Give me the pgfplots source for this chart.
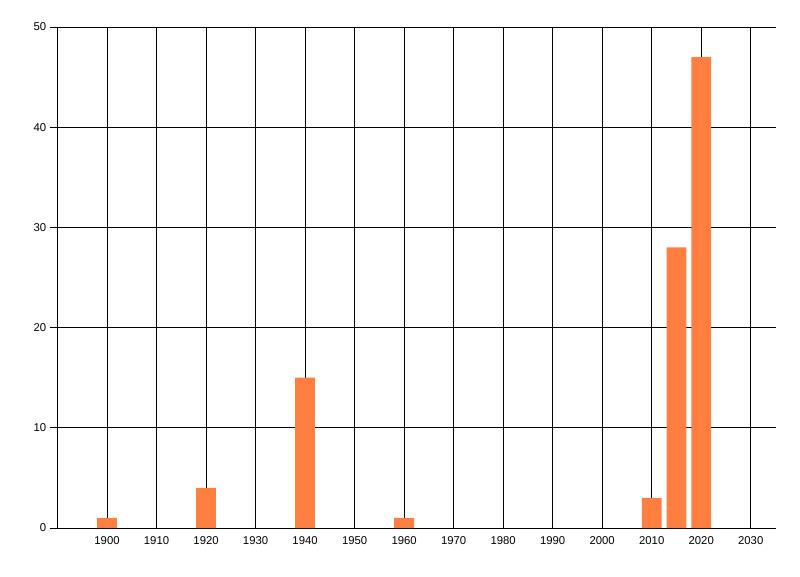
\documentclass[border=0pt]{standalone}
\usepackage{fontspec}
\setmainfont{Liberation Sans}
\usepackage{pgfplots}
\pgfplotsset{compat=1.18}
\definecolor{barorange}{RGB}{255,127,64}

\begin{document}
\begin{tikzpicture}
\path[use as bounding box] (0pt,0pt) rectangle (600pt,432pt);
\begin{axis}[
    at={(43.125pt,36pt)}, anchor=south west,
    scale only axis,
    width=538.5pt, height=375.75pt,
    xmin=1890, xmax=2035,
    ymin=0, ymax=50,
    xtick={1900,1910,...,2030},
    ytick={0,10,...,50},
    axis x line*=bottom, axis y line*=left,
    axis line style={-, black, line width=0.75pt},
    grid=major,
    major grid style={black, line width=0.75pt},
    xtick style={draw=none},
    ytick style={black, line width=0.75pt},
    tick align=outside,
    major tick length=6pt,
    ticklabel style={font=\fontsize{8.5}{10}\selectfont},
    xticklabel style={yshift=3pt},
    yticklabel style={xshift=1pt},
    /pgf/number format/assume math mode=true,
    /pgf/number format/1000 sep={},
    ybar, bar width=4,
]
\addplot[fill=barorange, draw=none] coordinates {
    (1900,1) (1920,4) (1940,15) (1960,1) (2010,3) (2015,28) (2020,47)
};
\end{axis}
\end{tikzpicture}
\end{document}
